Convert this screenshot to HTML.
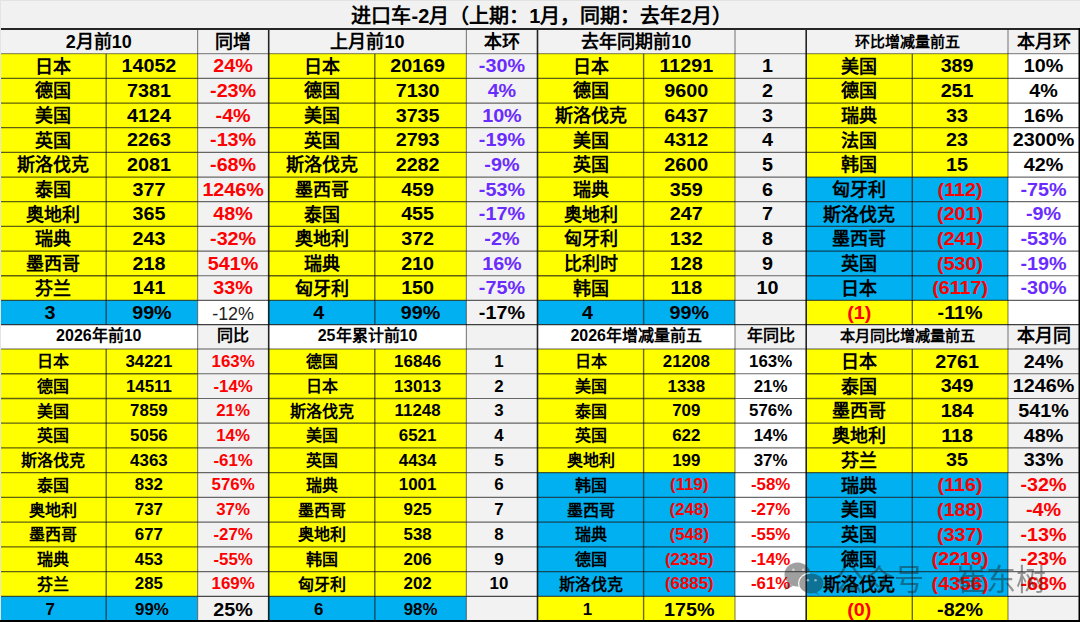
<!DOCTYPE html>
<html lang="zh-CN"><head><meta charset="utf-8"><style>
html,body{margin:0;padding:0;background:#f1f1f1;}
body{width:1080px;height:622px;overflow:hidden;position:relative;}
svg{position:absolute;left:0;top:0;}
text{font-family:"Liberation Sans",sans-serif;}
</style></head><body>
<svg width="1080" height="622" viewBox="0 0 1080 622">
<rect x="0" y="0" width="1080" height="622" fill="#f1f1f1"/>

<rect x="0.00" y="28.90" width="268.70" height="24.80" fill="#f2f2f2"/>
<rect x="268.70" y="28.90" width="268.80" height="24.80" fill="#f2f2f2"/>
<rect x="537.50" y="28.90" width="268.70" height="24.80" fill="#f2f2f2"/>
<rect x="806.20" y="28.90" width="272.70" height="24.80" fill="#f2f2f2"/>
<rect x="0.00" y="53.70" width="106.20" height="24.67" fill="#ffff00"/>
<rect x="106.20" y="53.70" width="91.40" height="24.67" fill="#ffff00"/>
<rect x="197.60" y="53.70" width="71.10" height="24.67" fill="#f2f2f2"/>
<rect x="0.00" y="78.37" width="106.20" height="24.67" fill="#ffff00"/>
<rect x="106.20" y="78.37" width="91.40" height="24.67" fill="#ffff00"/>
<rect x="197.60" y="78.37" width="71.10" height="24.67" fill="#f2f2f2"/>
<rect x="0.00" y="103.04" width="106.20" height="24.67" fill="#ffff00"/>
<rect x="106.20" y="103.04" width="91.40" height="24.67" fill="#ffff00"/>
<rect x="197.60" y="103.04" width="71.10" height="24.67" fill="#f2f2f2"/>
<rect x="0.00" y="127.71" width="106.20" height="24.67" fill="#ffff00"/>
<rect x="106.20" y="127.71" width="91.40" height="24.67" fill="#ffff00"/>
<rect x="197.60" y="127.71" width="71.10" height="24.67" fill="#f2f2f2"/>
<rect x="0.00" y="152.38" width="106.20" height="24.67" fill="#ffff00"/>
<rect x="106.20" y="152.38" width="91.40" height="24.67" fill="#ffff00"/>
<rect x="197.60" y="152.38" width="71.10" height="24.67" fill="#f2f2f2"/>
<rect x="0.00" y="177.05" width="106.20" height="24.67" fill="#ffff00"/>
<rect x="106.20" y="177.05" width="91.40" height="24.67" fill="#ffff00"/>
<rect x="197.60" y="177.05" width="71.10" height="24.67" fill="#f2f2f2"/>
<rect x="0.00" y="201.72" width="106.20" height="24.67" fill="#ffff00"/>
<rect x="106.20" y="201.72" width="91.40" height="24.67" fill="#ffff00"/>
<rect x="197.60" y="201.72" width="71.10" height="24.67" fill="#f2f2f2"/>
<rect x="0.00" y="226.39" width="106.20" height="24.67" fill="#ffff00"/>
<rect x="106.20" y="226.39" width="91.40" height="24.67" fill="#ffff00"/>
<rect x="197.60" y="226.39" width="71.10" height="24.67" fill="#f2f2f2"/>
<rect x="0.00" y="251.06" width="106.20" height="24.67" fill="#ffff00"/>
<rect x="106.20" y="251.06" width="91.40" height="24.67" fill="#ffff00"/>
<rect x="197.60" y="251.06" width="71.10" height="24.67" fill="#f2f2f2"/>
<rect x="0.00" y="275.73" width="106.20" height="24.67" fill="#ffff00"/>
<rect x="106.20" y="275.73" width="91.40" height="24.67" fill="#ffff00"/>
<rect x="197.60" y="275.73" width="71.10" height="24.67" fill="#f2f2f2"/>
<rect x="268.70" y="53.70" width="106.10" height="24.67" fill="#ffff00"/>
<rect x="374.80" y="53.70" width="91.60" height="24.67" fill="#ffff00"/>
<rect x="466.40" y="53.70" width="71.10" height="24.67" fill="#f2f2f2"/>
<rect x="268.70" y="78.37" width="106.10" height="24.67" fill="#ffff00"/>
<rect x="374.80" y="78.37" width="91.60" height="24.67" fill="#ffff00"/>
<rect x="466.40" y="78.37" width="71.10" height="24.67" fill="#f2f2f2"/>
<rect x="268.70" y="103.04" width="106.10" height="24.67" fill="#ffff00"/>
<rect x="374.80" y="103.04" width="91.60" height="24.67" fill="#ffff00"/>
<rect x="466.40" y="103.04" width="71.10" height="24.67" fill="#f2f2f2"/>
<rect x="268.70" y="127.71" width="106.10" height="24.67" fill="#ffff00"/>
<rect x="374.80" y="127.71" width="91.60" height="24.67" fill="#ffff00"/>
<rect x="466.40" y="127.71" width="71.10" height="24.67" fill="#f2f2f2"/>
<rect x="268.70" y="152.38" width="106.10" height="24.67" fill="#ffff00"/>
<rect x="374.80" y="152.38" width="91.60" height="24.67" fill="#ffff00"/>
<rect x="466.40" y="152.38" width="71.10" height="24.67" fill="#f2f2f2"/>
<rect x="268.70" y="177.05" width="106.10" height="24.67" fill="#ffff00"/>
<rect x="374.80" y="177.05" width="91.60" height="24.67" fill="#ffff00"/>
<rect x="466.40" y="177.05" width="71.10" height="24.67" fill="#f2f2f2"/>
<rect x="268.70" y="201.72" width="106.10" height="24.67" fill="#ffff00"/>
<rect x="374.80" y="201.72" width="91.60" height="24.67" fill="#ffff00"/>
<rect x="466.40" y="201.72" width="71.10" height="24.67" fill="#f2f2f2"/>
<rect x="268.70" y="226.39" width="106.10" height="24.67" fill="#ffff00"/>
<rect x="374.80" y="226.39" width="91.60" height="24.67" fill="#ffff00"/>
<rect x="466.40" y="226.39" width="71.10" height="24.67" fill="#f2f2f2"/>
<rect x="268.70" y="251.06" width="106.10" height="24.67" fill="#ffff00"/>
<rect x="374.80" y="251.06" width="91.60" height="24.67" fill="#ffff00"/>
<rect x="466.40" y="251.06" width="71.10" height="24.67" fill="#f2f2f2"/>
<rect x="268.70" y="275.73" width="106.10" height="24.67" fill="#ffff00"/>
<rect x="374.80" y="275.73" width="91.60" height="24.67" fill="#ffff00"/>
<rect x="466.40" y="275.73" width="71.10" height="24.67" fill="#f2f2f2"/>
<rect x="537.50" y="53.70" width="106.10" height="24.67" fill="#ffff00"/>
<rect x="643.60" y="53.70" width="91.40" height="24.67" fill="#ffff00"/>
<rect x="735.00" y="53.70" width="71.20" height="24.67" fill="#f2f2f2"/>
<rect x="537.50" y="78.37" width="106.10" height="24.67" fill="#ffff00"/>
<rect x="643.60" y="78.37" width="91.40" height="24.67" fill="#ffff00"/>
<rect x="735.00" y="78.37" width="71.20" height="24.67" fill="#f2f2f2"/>
<rect x="537.50" y="103.04" width="106.10" height="24.67" fill="#ffff00"/>
<rect x="643.60" y="103.04" width="91.40" height="24.67" fill="#ffff00"/>
<rect x="735.00" y="103.04" width="71.20" height="24.67" fill="#f2f2f2"/>
<rect x="537.50" y="127.71" width="106.10" height="24.67" fill="#ffff00"/>
<rect x="643.60" y="127.71" width="91.40" height="24.67" fill="#ffff00"/>
<rect x="735.00" y="127.71" width="71.20" height="24.67" fill="#f2f2f2"/>
<rect x="537.50" y="152.38" width="106.10" height="24.67" fill="#ffff00"/>
<rect x="643.60" y="152.38" width="91.40" height="24.67" fill="#ffff00"/>
<rect x="735.00" y="152.38" width="71.20" height="24.67" fill="#f2f2f2"/>
<rect x="537.50" y="177.05" width="106.10" height="24.67" fill="#ffff00"/>
<rect x="643.60" y="177.05" width="91.40" height="24.67" fill="#ffff00"/>
<rect x="735.00" y="177.05" width="71.20" height="24.67" fill="#f2f2f2"/>
<rect x="537.50" y="201.72" width="106.10" height="24.67" fill="#ffff00"/>
<rect x="643.60" y="201.72" width="91.40" height="24.67" fill="#ffff00"/>
<rect x="735.00" y="201.72" width="71.20" height="24.67" fill="#f2f2f2"/>
<rect x="537.50" y="226.39" width="106.10" height="24.67" fill="#ffff00"/>
<rect x="643.60" y="226.39" width="91.40" height="24.67" fill="#ffff00"/>
<rect x="735.00" y="226.39" width="71.20" height="24.67" fill="#f2f2f2"/>
<rect x="537.50" y="251.06" width="106.10" height="24.67" fill="#ffff00"/>
<rect x="643.60" y="251.06" width="91.40" height="24.67" fill="#ffff00"/>
<rect x="735.00" y="251.06" width="71.20" height="24.67" fill="#f2f2f2"/>
<rect x="537.50" y="275.73" width="106.10" height="24.67" fill="#ffff00"/>
<rect x="643.60" y="275.73" width="91.40" height="24.67" fill="#ffff00"/>
<rect x="735.00" y="275.73" width="71.20" height="24.67" fill="#f2f2f2"/>
<rect x="806.20" y="53.70" width="106.10" height="24.67" fill="#ffff00"/>
<rect x="912.30" y="53.70" width="95.70" height="24.67" fill="#ffff00"/>
<rect x="1008.00" y="53.70" width="70.90" height="24.67" fill="#ffffff"/>
<rect x="806.20" y="78.37" width="106.10" height="24.67" fill="#ffff00"/>
<rect x="912.30" y="78.37" width="95.70" height="24.67" fill="#ffff00"/>
<rect x="1008.00" y="78.37" width="70.90" height="24.67" fill="#ffffff"/>
<rect x="806.20" y="103.04" width="106.10" height="24.67" fill="#ffff00"/>
<rect x="912.30" y="103.04" width="95.70" height="24.67" fill="#ffff00"/>
<rect x="1008.00" y="103.04" width="70.90" height="24.67" fill="#ffffff"/>
<rect x="806.20" y="127.71" width="106.10" height="24.67" fill="#ffff00"/>
<rect x="912.30" y="127.71" width="95.70" height="24.67" fill="#ffff00"/>
<rect x="1008.00" y="127.71" width="70.90" height="24.67" fill="#ffffff"/>
<rect x="806.20" y="152.38" width="106.10" height="24.67" fill="#ffff00"/>
<rect x="912.30" y="152.38" width="95.70" height="24.67" fill="#ffff00"/>
<rect x="1008.00" y="152.38" width="70.90" height="24.67" fill="#ffffff"/>
<rect x="806.20" y="177.05" width="106.10" height="24.67" fill="#00b0f0"/>
<rect x="912.30" y="177.05" width="95.70" height="24.67" fill="#00b0f0"/>
<rect x="1008.00" y="177.05" width="70.90" height="24.67" fill="#ffffff"/>
<rect x="806.20" y="201.72" width="106.10" height="24.67" fill="#00b0f0"/>
<rect x="912.30" y="201.72" width="95.70" height="24.67" fill="#00b0f0"/>
<rect x="1008.00" y="201.72" width="70.90" height="24.67" fill="#ffffff"/>
<rect x="806.20" y="226.39" width="106.10" height="24.67" fill="#00b0f0"/>
<rect x="912.30" y="226.39" width="95.70" height="24.67" fill="#00b0f0"/>
<rect x="1008.00" y="226.39" width="70.90" height="24.67" fill="#ffffff"/>
<rect x="806.20" y="251.06" width="106.10" height="24.67" fill="#00b0f0"/>
<rect x="912.30" y="251.06" width="95.70" height="24.67" fill="#00b0f0"/>
<rect x="1008.00" y="251.06" width="70.90" height="24.67" fill="#ffffff"/>
<rect x="806.20" y="275.73" width="106.10" height="24.67" fill="#00b0f0"/>
<rect x="912.30" y="275.73" width="95.70" height="24.67" fill="#00b0f0"/>
<rect x="1008.00" y="275.73" width="70.90" height="24.67" fill="#ffffff"/>
<rect x="0.00" y="300.40" width="106.20" height="24.20" fill="#00b0f0"/>
<rect x="106.20" y="300.40" width="91.40" height="24.20" fill="#00b0f0"/>
<rect x="197.60" y="300.40" width="71.10" height="24.20" fill="#ffffff"/>
<rect x="268.70" y="300.40" width="106.10" height="24.20" fill="#00b0f0"/>
<rect x="374.80" y="300.40" width="91.60" height="24.20" fill="#00b0f0"/>
<rect x="466.40" y="300.40" width="71.10" height="24.20" fill="#f2f2f2"/>
<rect x="537.50" y="300.40" width="106.10" height="24.20" fill="#00b0f0"/>
<rect x="643.60" y="300.40" width="91.40" height="24.20" fill="#00b0f0"/>
<rect x="735.00" y="300.40" width="71.20" height="24.20" fill="#f2f2f2"/>
<rect x="806.20" y="300.40" width="106.10" height="24.20" fill="#ffff00"/>
<rect x="912.30" y="300.40" width="95.70" height="24.20" fill="#ffff00"/>
<rect x="1008.00" y="300.40" width="70.90" height="24.20" fill="#ffffff"/>
<rect x="0.00" y="324.60" width="197.60" height="24.40" fill="#ffffff"/>
<rect x="197.60" y="324.60" width="71.10" height="24.40" fill="#f2f2f2"/>
<rect x="268.70" y="324.60" width="197.70" height="24.40" fill="#ffffff"/>
<rect x="466.40" y="324.60" width="71.10" height="24.40" fill="#f2f2f2"/>
<rect x="537.50" y="324.60" width="197.50" height="24.40" fill="#ffffff"/>
<rect x="735.00" y="324.60" width="71.20" height="24.40" fill="#f2f2f2"/>
<rect x="806.20" y="324.60" width="201.80" height="24.40" fill="#f2f2f2"/>
<rect x="1008.00" y="324.60" width="70.90" height="24.40" fill="#f2f2f2"/>
<rect x="0.00" y="349.00" width="106.20" height="24.74" fill="#ffff00"/>
<rect x="106.20" y="349.00" width="91.40" height="24.74" fill="#ffff00"/>
<rect x="197.60" y="349.00" width="71.10" height="24.74" fill="#f2f2f2"/>
<rect x="0.00" y="373.74" width="106.20" height="24.74" fill="#ffff00"/>
<rect x="106.20" y="373.74" width="91.40" height="24.74" fill="#ffff00"/>
<rect x="197.60" y="373.74" width="71.10" height="24.74" fill="#f2f2f2"/>
<rect x="0.00" y="398.48" width="106.20" height="24.74" fill="#ffff00"/>
<rect x="106.20" y="398.48" width="91.40" height="24.74" fill="#ffff00"/>
<rect x="197.60" y="398.48" width="71.10" height="24.74" fill="#f2f2f2"/>
<rect x="0.00" y="423.22" width="106.20" height="24.74" fill="#ffff00"/>
<rect x="106.20" y="423.22" width="91.40" height="24.74" fill="#ffff00"/>
<rect x="197.60" y="423.22" width="71.10" height="24.74" fill="#f2f2f2"/>
<rect x="0.00" y="447.96" width="106.20" height="24.74" fill="#ffff00"/>
<rect x="106.20" y="447.96" width="91.40" height="24.74" fill="#ffff00"/>
<rect x="197.60" y="447.96" width="71.10" height="24.74" fill="#f2f2f2"/>
<rect x="0.00" y="472.70" width="106.20" height="24.74" fill="#ffff00"/>
<rect x="106.20" y="472.70" width="91.40" height="24.74" fill="#ffff00"/>
<rect x="197.60" y="472.70" width="71.10" height="24.74" fill="#f2f2f2"/>
<rect x="0.00" y="497.44" width="106.20" height="24.74" fill="#ffff00"/>
<rect x="106.20" y="497.44" width="91.40" height="24.74" fill="#ffff00"/>
<rect x="197.60" y="497.44" width="71.10" height="24.74" fill="#f2f2f2"/>
<rect x="0.00" y="522.18" width="106.20" height="24.74" fill="#ffff00"/>
<rect x="106.20" y="522.18" width="91.40" height="24.74" fill="#ffff00"/>
<rect x="197.60" y="522.18" width="71.10" height="24.74" fill="#f2f2f2"/>
<rect x="0.00" y="546.92" width="106.20" height="24.74" fill="#ffff00"/>
<rect x="106.20" y="546.92" width="91.40" height="24.74" fill="#ffff00"/>
<rect x="197.60" y="546.92" width="71.10" height="24.74" fill="#f2f2f2"/>
<rect x="0.00" y="571.66" width="106.20" height="24.74" fill="#ffff00"/>
<rect x="106.20" y="571.66" width="91.40" height="24.74" fill="#ffff00"/>
<rect x="197.60" y="571.66" width="71.10" height="24.74" fill="#f2f2f2"/>
<rect x="268.70" y="349.00" width="106.10" height="24.74" fill="#ffff00"/>
<rect x="374.80" y="349.00" width="91.60" height="24.74" fill="#ffff00"/>
<rect x="466.40" y="349.00" width="71.10" height="24.74" fill="#f2f2f2"/>
<rect x="268.70" y="373.74" width="106.10" height="24.74" fill="#ffff00"/>
<rect x="374.80" y="373.74" width="91.60" height="24.74" fill="#ffff00"/>
<rect x="466.40" y="373.74" width="71.10" height="24.74" fill="#f2f2f2"/>
<rect x="268.70" y="398.48" width="106.10" height="24.74" fill="#ffff00"/>
<rect x="374.80" y="398.48" width="91.60" height="24.74" fill="#ffff00"/>
<rect x="466.40" y="398.48" width="71.10" height="24.74" fill="#f2f2f2"/>
<rect x="268.70" y="423.22" width="106.10" height="24.74" fill="#ffff00"/>
<rect x="374.80" y="423.22" width="91.60" height="24.74" fill="#ffff00"/>
<rect x="466.40" y="423.22" width="71.10" height="24.74" fill="#f2f2f2"/>
<rect x="268.70" y="447.96" width="106.10" height="24.74" fill="#ffff00"/>
<rect x="374.80" y="447.96" width="91.60" height="24.74" fill="#ffff00"/>
<rect x="466.40" y="447.96" width="71.10" height="24.74" fill="#f2f2f2"/>
<rect x="268.70" y="472.70" width="106.10" height="24.74" fill="#ffff00"/>
<rect x="374.80" y="472.70" width="91.60" height="24.74" fill="#ffff00"/>
<rect x="466.40" y="472.70" width="71.10" height="24.74" fill="#f2f2f2"/>
<rect x="268.70" y="497.44" width="106.10" height="24.74" fill="#ffff00"/>
<rect x="374.80" y="497.44" width="91.60" height="24.74" fill="#ffff00"/>
<rect x="466.40" y="497.44" width="71.10" height="24.74" fill="#f2f2f2"/>
<rect x="268.70" y="522.18" width="106.10" height="24.74" fill="#ffff00"/>
<rect x="374.80" y="522.18" width="91.60" height="24.74" fill="#ffff00"/>
<rect x="466.40" y="522.18" width="71.10" height="24.74" fill="#f2f2f2"/>
<rect x="268.70" y="546.92" width="106.10" height="24.74" fill="#ffff00"/>
<rect x="374.80" y="546.92" width="91.60" height="24.74" fill="#ffff00"/>
<rect x="466.40" y="546.92" width="71.10" height="24.74" fill="#f2f2f2"/>
<rect x="268.70" y="571.66" width="106.10" height="24.74" fill="#ffff00"/>
<rect x="374.80" y="571.66" width="91.60" height="24.74" fill="#ffff00"/>
<rect x="466.40" y="571.66" width="71.10" height="24.74" fill="#f2f2f2"/>
<rect x="537.50" y="349.00" width="106.10" height="24.74" fill="#ffff00"/>
<rect x="643.60" y="349.00" width="91.40" height="24.74" fill="#ffff00"/>
<rect x="735.00" y="349.00" width="71.20" height="24.74" fill="#ffffff"/>
<rect x="537.50" y="373.74" width="106.10" height="24.74" fill="#ffff00"/>
<rect x="643.60" y="373.74" width="91.40" height="24.74" fill="#ffff00"/>
<rect x="735.00" y="373.74" width="71.20" height="24.74" fill="#ffffff"/>
<rect x="537.50" y="398.48" width="106.10" height="24.74" fill="#ffff00"/>
<rect x="643.60" y="398.48" width="91.40" height="24.74" fill="#ffff00"/>
<rect x="735.00" y="398.48" width="71.20" height="24.74" fill="#ffffff"/>
<rect x="537.50" y="423.22" width="106.10" height="24.74" fill="#ffff00"/>
<rect x="643.60" y="423.22" width="91.40" height="24.74" fill="#ffff00"/>
<rect x="735.00" y="423.22" width="71.20" height="24.74" fill="#ffffff"/>
<rect x="537.50" y="447.96" width="106.10" height="24.74" fill="#ffff00"/>
<rect x="643.60" y="447.96" width="91.40" height="24.74" fill="#ffff00"/>
<rect x="735.00" y="447.96" width="71.20" height="24.74" fill="#ffffff"/>
<rect x="537.50" y="472.70" width="106.10" height="24.74" fill="#00b0f0"/>
<rect x="643.60" y="472.70" width="91.40" height="24.74" fill="#00b0f0"/>
<rect x="735.00" y="472.70" width="71.20" height="24.74" fill="#ffffff"/>
<rect x="537.50" y="497.44" width="106.10" height="24.74" fill="#00b0f0"/>
<rect x="643.60" y="497.44" width="91.40" height="24.74" fill="#00b0f0"/>
<rect x="735.00" y="497.44" width="71.20" height="24.74" fill="#ffffff"/>
<rect x="537.50" y="522.18" width="106.10" height="24.74" fill="#00b0f0"/>
<rect x="643.60" y="522.18" width="91.40" height="24.74" fill="#00b0f0"/>
<rect x="735.00" y="522.18" width="71.20" height="24.74" fill="#ffffff"/>
<rect x="537.50" y="546.92" width="106.10" height="24.74" fill="#00b0f0"/>
<rect x="643.60" y="546.92" width="91.40" height="24.74" fill="#00b0f0"/>
<rect x="735.00" y="546.92" width="71.20" height="24.74" fill="#ffffff"/>
<rect x="537.50" y="571.66" width="106.10" height="24.74" fill="#00b0f0"/>
<rect x="643.60" y="571.66" width="91.40" height="24.74" fill="#00b0f0"/>
<rect x="735.00" y="571.66" width="71.20" height="24.74" fill="#ffffff"/>
<rect x="806.20" y="349.00" width="106.10" height="24.74" fill="#ffff00"/>
<rect x="912.30" y="349.00" width="95.70" height="24.74" fill="#ffff00"/>
<rect x="1008.00" y="349.00" width="70.90" height="24.74" fill="#f2f2f2"/>
<rect x="806.20" y="373.74" width="106.10" height="24.74" fill="#ffff00"/>
<rect x="912.30" y="373.74" width="95.70" height="24.74" fill="#ffff00"/>
<rect x="1008.00" y="373.74" width="70.90" height="24.74" fill="#f2f2f2"/>
<rect x="806.20" y="398.48" width="106.10" height="24.74" fill="#ffff00"/>
<rect x="912.30" y="398.48" width="95.70" height="24.74" fill="#ffff00"/>
<rect x="1008.00" y="398.48" width="70.90" height="24.74" fill="#f2f2f2"/>
<rect x="806.20" y="423.22" width="106.10" height="24.74" fill="#ffff00"/>
<rect x="912.30" y="423.22" width="95.70" height="24.74" fill="#ffff00"/>
<rect x="1008.00" y="423.22" width="70.90" height="24.74" fill="#f2f2f2"/>
<rect x="806.20" y="447.96" width="106.10" height="24.74" fill="#ffff00"/>
<rect x="912.30" y="447.96" width="95.70" height="24.74" fill="#ffff00"/>
<rect x="1008.00" y="447.96" width="70.90" height="24.74" fill="#f2f2f2"/>
<rect x="806.20" y="472.70" width="106.10" height="24.74" fill="#00b0f0"/>
<rect x="912.30" y="472.70" width="95.70" height="24.74" fill="#00b0f0"/>
<rect x="1008.00" y="472.70" width="70.90" height="24.74" fill="#f2f2f2"/>
<rect x="806.20" y="497.44" width="106.10" height="24.74" fill="#00b0f0"/>
<rect x="912.30" y="497.44" width="95.70" height="24.74" fill="#00b0f0"/>
<rect x="1008.00" y="497.44" width="70.90" height="24.74" fill="#f2f2f2"/>
<rect x="806.20" y="522.18" width="106.10" height="24.74" fill="#00b0f0"/>
<rect x="912.30" y="522.18" width="95.70" height="24.74" fill="#00b0f0"/>
<rect x="1008.00" y="522.18" width="70.90" height="24.74" fill="#f2f2f2"/>
<rect x="806.20" y="546.92" width="106.10" height="24.74" fill="#00b0f0"/>
<rect x="912.30" y="546.92" width="95.70" height="24.74" fill="#00b0f0"/>
<rect x="1008.00" y="546.92" width="70.90" height="24.74" fill="#f2f2f2"/>
<rect x="806.20" y="571.66" width="106.10" height="24.74" fill="#00b0f0"/>
<rect x="912.30" y="571.66" width="95.70" height="24.74" fill="#00b0f0"/>
<rect x="1008.00" y="571.66" width="70.90" height="24.74" fill="#f2f2f2"/>
<rect x="0.00" y="596.40" width="106.20" height="23.60" fill="#00b0f0"/>
<rect x="106.20" y="596.40" width="91.40" height="23.60" fill="#00b0f0"/>
<rect x="197.60" y="596.40" width="71.10" height="23.60" fill="#f2f2f2"/>
<rect x="268.70" y="596.40" width="106.10" height="23.60" fill="#00b0f0"/>
<rect x="374.80" y="596.40" width="91.60" height="23.60" fill="#00b0f0"/>
<rect x="466.40" y="596.40" width="71.10" height="23.60" fill="#f2f2f2"/>
<rect x="537.50" y="596.40" width="106.10" height="23.60" fill="#ffff00"/>
<rect x="643.60" y="596.40" width="91.40" height="23.60" fill="#ffff00"/>
<rect x="735.00" y="596.40" width="71.20" height="23.60" fill="#ffffff"/>
<rect x="806.20" y="596.40" width="106.10" height="23.60" fill="#ffff00"/>
<rect x="912.30" y="596.40" width="95.70" height="23.60" fill="#ffff00"/>
<rect x="1008.00" y="596.40" width="70.90" height="23.60" fill="#f2f2f2"/>
<filter id="soft" x="0" y="0" width="1080" height="622" filterUnits="userSpaceOnUse"><feGaussianBlur stdDeviation="0.4"/></filter>
<g filter="url(#soft)">
<line x1="0.00" y1="53.70" x2="268.70" y2="53.70" stroke="rgba(0,0,0,0.42)" stroke-width="1.3"/>
<line x1="0.00" y1="78.37" x2="197.60" y2="78.37" stroke="rgba(0,0,0,0.62)" stroke-width="1.3"/>
<line x1="197.60" y1="78.37" x2="268.70" y2="78.37" stroke="rgba(0,0,0,0.58)" stroke-width="1.2"/>
<line x1="0.00" y1="103.04" x2="197.60" y2="103.04" stroke="rgba(0,0,0,0.62)" stroke-width="1.3"/>
<line x1="197.60" y1="103.04" x2="268.70" y2="103.04" stroke="rgba(0,0,0,0.58)" stroke-width="1.2"/>
<line x1="0.00" y1="127.71" x2="197.60" y2="127.71" stroke="rgba(0,0,0,0.62)" stroke-width="1.3"/>
<line x1="197.60" y1="127.71" x2="268.70" y2="127.71" stroke="rgba(0,0,0,0.58)" stroke-width="1.2"/>
<line x1="0.00" y1="152.38" x2="197.60" y2="152.38" stroke="rgba(0,0,0,0.62)" stroke-width="1.3"/>
<line x1="197.60" y1="152.38" x2="268.70" y2="152.38" stroke="rgba(0,0,0,0.58)" stroke-width="1.2"/>
<line x1="0.00" y1="177.05" x2="197.60" y2="177.05" stroke="rgba(0,0,0,0.62)" stroke-width="1.3"/>
<line x1="197.60" y1="177.05" x2="268.70" y2="177.05" stroke="rgba(0,0,0,0.58)" stroke-width="1.2"/>
<line x1="0.00" y1="201.72" x2="197.60" y2="201.72" stroke="rgba(0,0,0,0.62)" stroke-width="1.3"/>
<line x1="197.60" y1="201.72" x2="268.70" y2="201.72" stroke="rgba(0,0,0,0.58)" stroke-width="1.2"/>
<line x1="0.00" y1="226.39" x2="197.60" y2="226.39" stroke="rgba(0,0,0,0.62)" stroke-width="1.3"/>
<line x1="197.60" y1="226.39" x2="268.70" y2="226.39" stroke="rgba(0,0,0,0.58)" stroke-width="1.2"/>
<line x1="0.00" y1="251.06" x2="197.60" y2="251.06" stroke="rgba(0,0,0,0.62)" stroke-width="1.3"/>
<line x1="197.60" y1="251.06" x2="268.70" y2="251.06" stroke="rgba(0,0,0,0.58)" stroke-width="1.2"/>
<line x1="0.00" y1="275.73" x2="197.60" y2="275.73" stroke="rgba(0,0,0,0.62)" stroke-width="1.3"/>
<line x1="197.60" y1="275.73" x2="268.70" y2="275.73" stroke="rgba(0,0,0,0.58)" stroke-width="1.2"/>
<line x1="0.00" y1="300.40" x2="197.60" y2="300.40" stroke="rgba(0,0,0,0.62)" stroke-width="1.3"/>
<line x1="197.60" y1="300.40" x2="268.70" y2="300.40" stroke="rgba(0,0,0,0.62)" stroke-width="1.2"/>
<line x1="0.00" y1="324.60" x2="268.70" y2="324.60" stroke="rgba(0,0,0,0.75)" stroke-width="1.3"/>
<line x1="0.00" y1="349.00" x2="268.70" y2="349.00" stroke="rgba(0,0,0,0.42)" stroke-width="1.3"/>
<line x1="0.00" y1="373.74" x2="197.60" y2="373.74" stroke="rgba(0,0,0,0.62)" stroke-width="1.3"/>
<line x1="197.60" y1="373.74" x2="268.70" y2="373.74" stroke="rgba(0,0,0,0.58)" stroke-width="1.2"/>
<line x1="0.00" y1="398.48" x2="197.60" y2="398.48" stroke="rgba(0,0,0,0.62)" stroke-width="1.3"/>
<line x1="197.60" y1="398.48" x2="268.70" y2="398.48" stroke="rgba(0,0,0,0.58)" stroke-width="1.2"/>
<line x1="0.00" y1="423.22" x2="197.60" y2="423.22" stroke="rgba(0,0,0,0.62)" stroke-width="1.3"/>
<line x1="197.60" y1="423.22" x2="268.70" y2="423.22" stroke="rgba(0,0,0,0.58)" stroke-width="1.2"/>
<line x1="0.00" y1="447.96" x2="197.60" y2="447.96" stroke="rgba(0,0,0,0.62)" stroke-width="1.3"/>
<line x1="197.60" y1="447.96" x2="268.70" y2="447.96" stroke="rgba(0,0,0,0.58)" stroke-width="1.2"/>
<line x1="0.00" y1="472.70" x2="197.60" y2="472.70" stroke="rgba(0,0,0,0.62)" stroke-width="1.3"/>
<line x1="197.60" y1="472.70" x2="268.70" y2="472.70" stroke="rgba(0,0,0,0.58)" stroke-width="1.2"/>
<line x1="0.00" y1="497.44" x2="197.60" y2="497.44" stroke="rgba(0,0,0,0.62)" stroke-width="1.3"/>
<line x1="197.60" y1="497.44" x2="268.70" y2="497.44" stroke="rgba(0,0,0,0.58)" stroke-width="1.2"/>
<line x1="0.00" y1="522.18" x2="197.60" y2="522.18" stroke="rgba(0,0,0,0.62)" stroke-width="1.3"/>
<line x1="197.60" y1="522.18" x2="268.70" y2="522.18" stroke="rgba(0,0,0,0.58)" stroke-width="1.2"/>
<line x1="0.00" y1="546.92" x2="197.60" y2="546.92" stroke="rgba(0,0,0,0.62)" stroke-width="1.3"/>
<line x1="197.60" y1="546.92" x2="268.70" y2="546.92" stroke="rgba(0,0,0,0.58)" stroke-width="1.2"/>
<line x1="0.00" y1="571.66" x2="197.60" y2="571.66" stroke="rgba(0,0,0,0.62)" stroke-width="1.3"/>
<line x1="197.60" y1="571.66" x2="268.70" y2="571.66" stroke="rgba(0,0,0,0.58)" stroke-width="1.2"/>
<line x1="0.00" y1="596.40" x2="197.60" y2="596.40" stroke="rgba(0,0,0,0.62)" stroke-width="1.3"/>
<line x1="197.60" y1="596.40" x2="268.70" y2="596.40" stroke="rgba(0,0,0,0.7)" stroke-width="1.2"/>
<line x1="106.20" y1="53.70" x2="106.20" y2="324.60" stroke="rgba(0,0,0,0.58)" stroke-width="1.4"/>
<line x1="106.20" y1="349.00" x2="106.20" y2="620.00" stroke="rgba(0,0,0,0.58)" stroke-width="1.4"/>
<line x1="197.60" y1="28.90" x2="197.60" y2="620.00" stroke="rgba(0,0,0,0.45)" stroke-width="1.2"/>
<line x1="268.70" y1="28.90" x2="268.70" y2="620.00" stroke="rgba(0,0,0,0.85)" stroke-width="1.6"/>
<line x1="268.70" y1="53.70" x2="537.50" y2="53.70" stroke="rgba(0,0,0,0.42)" stroke-width="1.3"/>
<line x1="268.70" y1="78.37" x2="466.40" y2="78.37" stroke="rgba(0,0,0,0.62)" stroke-width="1.3"/>
<line x1="466.40" y1="78.37" x2="537.50" y2="78.37" stroke="rgba(0,0,0,0.58)" stroke-width="1.2"/>
<line x1="268.70" y1="103.04" x2="466.40" y2="103.04" stroke="rgba(0,0,0,0.62)" stroke-width="1.3"/>
<line x1="466.40" y1="103.04" x2="537.50" y2="103.04" stroke="rgba(0,0,0,0.58)" stroke-width="1.2"/>
<line x1="268.70" y1="127.71" x2="466.40" y2="127.71" stroke="rgba(0,0,0,0.62)" stroke-width="1.3"/>
<line x1="466.40" y1="127.71" x2="537.50" y2="127.71" stroke="rgba(0,0,0,0.58)" stroke-width="1.2"/>
<line x1="268.70" y1="152.38" x2="466.40" y2="152.38" stroke="rgba(0,0,0,0.62)" stroke-width="1.3"/>
<line x1="466.40" y1="152.38" x2="537.50" y2="152.38" stroke="rgba(0,0,0,0.58)" stroke-width="1.2"/>
<line x1="268.70" y1="177.05" x2="466.40" y2="177.05" stroke="rgba(0,0,0,0.62)" stroke-width="1.3"/>
<line x1="466.40" y1="177.05" x2="537.50" y2="177.05" stroke="rgba(0,0,0,0.58)" stroke-width="1.2"/>
<line x1="268.70" y1="201.72" x2="466.40" y2="201.72" stroke="rgba(0,0,0,0.62)" stroke-width="1.3"/>
<line x1="466.40" y1="201.72" x2="537.50" y2="201.72" stroke="rgba(0,0,0,0.58)" stroke-width="1.2"/>
<line x1="268.70" y1="226.39" x2="466.40" y2="226.39" stroke="rgba(0,0,0,0.62)" stroke-width="1.3"/>
<line x1="466.40" y1="226.39" x2="537.50" y2="226.39" stroke="rgba(0,0,0,0.58)" stroke-width="1.2"/>
<line x1="268.70" y1="251.06" x2="466.40" y2="251.06" stroke="rgba(0,0,0,0.62)" stroke-width="1.3"/>
<line x1="466.40" y1="251.06" x2="537.50" y2="251.06" stroke="rgba(0,0,0,0.58)" stroke-width="1.2"/>
<line x1="268.70" y1="275.73" x2="466.40" y2="275.73" stroke="rgba(0,0,0,0.62)" stroke-width="1.3"/>
<line x1="466.40" y1="275.73" x2="537.50" y2="275.73" stroke="rgba(0,0,0,0.58)" stroke-width="1.2"/>
<line x1="268.70" y1="300.40" x2="466.40" y2="300.40" stroke="rgba(0,0,0,0.62)" stroke-width="1.3"/>
<line x1="466.40" y1="300.40" x2="537.50" y2="300.40" stroke="rgba(0,0,0,0.62)" stroke-width="1.2"/>
<line x1="268.70" y1="324.60" x2="537.50" y2="324.60" stroke="rgba(0,0,0,0.75)" stroke-width="1.3"/>
<line x1="268.70" y1="349.00" x2="537.50" y2="349.00" stroke="rgba(0,0,0,0.42)" stroke-width="1.3"/>
<line x1="268.70" y1="373.74" x2="466.40" y2="373.74" stroke="rgba(0,0,0,0.62)" stroke-width="1.3"/>
<line x1="466.40" y1="373.74" x2="537.50" y2="373.74" stroke="rgba(0,0,0,0.58)" stroke-width="1.2"/>
<line x1="268.70" y1="398.48" x2="466.40" y2="398.48" stroke="rgba(0,0,0,0.62)" stroke-width="1.3"/>
<line x1="466.40" y1="398.48" x2="537.50" y2="398.48" stroke="rgba(0,0,0,0.58)" stroke-width="1.2"/>
<line x1="268.70" y1="423.22" x2="466.40" y2="423.22" stroke="rgba(0,0,0,0.62)" stroke-width="1.3"/>
<line x1="466.40" y1="423.22" x2="537.50" y2="423.22" stroke="rgba(0,0,0,0.58)" stroke-width="1.2"/>
<line x1="268.70" y1="447.96" x2="466.40" y2="447.96" stroke="rgba(0,0,0,0.62)" stroke-width="1.3"/>
<line x1="466.40" y1="447.96" x2="537.50" y2="447.96" stroke="rgba(0,0,0,0.58)" stroke-width="1.2"/>
<line x1="268.70" y1="472.70" x2="466.40" y2="472.70" stroke="rgba(0,0,0,0.62)" stroke-width="1.3"/>
<line x1="466.40" y1="472.70" x2="537.50" y2="472.70" stroke="rgba(0,0,0,0.58)" stroke-width="1.2"/>
<line x1="268.70" y1="497.44" x2="466.40" y2="497.44" stroke="rgba(0,0,0,0.62)" stroke-width="1.3"/>
<line x1="466.40" y1="497.44" x2="537.50" y2="497.44" stroke="rgba(0,0,0,0.58)" stroke-width="1.2"/>
<line x1="268.70" y1="522.18" x2="466.40" y2="522.18" stroke="rgba(0,0,0,0.62)" stroke-width="1.3"/>
<line x1="466.40" y1="522.18" x2="537.50" y2="522.18" stroke="rgba(0,0,0,0.58)" stroke-width="1.2"/>
<line x1="268.70" y1="546.92" x2="466.40" y2="546.92" stroke="rgba(0,0,0,0.62)" stroke-width="1.3"/>
<line x1="466.40" y1="546.92" x2="537.50" y2="546.92" stroke="rgba(0,0,0,0.58)" stroke-width="1.2"/>
<line x1="268.70" y1="571.66" x2="466.40" y2="571.66" stroke="rgba(0,0,0,0.62)" stroke-width="1.3"/>
<line x1="466.40" y1="571.66" x2="537.50" y2="571.66" stroke="rgba(0,0,0,0.58)" stroke-width="1.2"/>
<line x1="268.70" y1="596.40" x2="466.40" y2="596.40" stroke="rgba(0,0,0,0.62)" stroke-width="1.3"/>
<line x1="466.40" y1="596.40" x2="537.50" y2="596.40" stroke="rgba(0,0,0,0.7)" stroke-width="1.2"/>
<line x1="374.80" y1="53.70" x2="374.80" y2="324.60" stroke="rgba(0,0,0,0.58)" stroke-width="1.4"/>
<line x1="374.80" y1="349.00" x2="374.80" y2="620.00" stroke="rgba(0,0,0,0.58)" stroke-width="1.4"/>
<line x1="466.40" y1="28.90" x2="466.40" y2="620.00" stroke="rgba(0,0,0,0.45)" stroke-width="1.2"/>
<line x1="537.50" y1="28.90" x2="537.50" y2="620.00" stroke="rgba(0,0,0,0.85)" stroke-width="1.6"/>
<line x1="537.50" y1="53.70" x2="806.20" y2="53.70" stroke="rgba(0,0,0,0.42)" stroke-width="1.3"/>
<line x1="537.50" y1="78.37" x2="735.00" y2="78.37" stroke="rgba(0,0,0,0.62)" stroke-width="1.3"/>
<line x1="735.00" y1="78.37" x2="806.20" y2="78.37" stroke="rgba(0,0,0,0.58)" stroke-width="1.2"/>
<line x1="537.50" y1="103.04" x2="735.00" y2="103.04" stroke="rgba(0,0,0,0.62)" stroke-width="1.3"/>
<line x1="735.00" y1="103.04" x2="806.20" y2="103.04" stroke="rgba(0,0,0,0.58)" stroke-width="1.2"/>
<line x1="537.50" y1="127.71" x2="735.00" y2="127.71" stroke="rgba(0,0,0,0.62)" stroke-width="1.3"/>
<line x1="735.00" y1="127.71" x2="806.20" y2="127.71" stroke="rgba(0,0,0,0.58)" stroke-width="1.2"/>
<line x1="537.50" y1="152.38" x2="735.00" y2="152.38" stroke="rgba(0,0,0,0.62)" stroke-width="1.3"/>
<line x1="735.00" y1="152.38" x2="806.20" y2="152.38" stroke="rgba(0,0,0,0.58)" stroke-width="1.2"/>
<line x1="537.50" y1="177.05" x2="735.00" y2="177.05" stroke="rgba(0,0,0,0.62)" stroke-width="1.3"/>
<line x1="735.00" y1="177.05" x2="806.20" y2="177.05" stroke="rgba(0,0,0,0.58)" stroke-width="1.2"/>
<line x1="537.50" y1="201.72" x2="735.00" y2="201.72" stroke="rgba(0,0,0,0.62)" stroke-width="1.3"/>
<line x1="735.00" y1="201.72" x2="806.20" y2="201.72" stroke="rgba(0,0,0,0.58)" stroke-width="1.2"/>
<line x1="537.50" y1="226.39" x2="735.00" y2="226.39" stroke="rgba(0,0,0,0.62)" stroke-width="1.3"/>
<line x1="735.00" y1="226.39" x2="806.20" y2="226.39" stroke="rgba(0,0,0,0.58)" stroke-width="1.2"/>
<line x1="537.50" y1="251.06" x2="735.00" y2="251.06" stroke="rgba(0,0,0,0.62)" stroke-width="1.3"/>
<line x1="735.00" y1="251.06" x2="806.20" y2="251.06" stroke="rgba(0,0,0,0.58)" stroke-width="1.2"/>
<line x1="537.50" y1="275.73" x2="735.00" y2="275.73" stroke="rgba(0,0,0,0.62)" stroke-width="1.3"/>
<line x1="735.00" y1="275.73" x2="806.20" y2="275.73" stroke="rgba(0,0,0,0.58)" stroke-width="1.2"/>
<line x1="537.50" y1="300.40" x2="735.00" y2="300.40" stroke="rgba(0,0,0,0.62)" stroke-width="1.3"/>
<line x1="735.00" y1="300.40" x2="806.20" y2="300.40" stroke="rgba(0,0,0,0.62)" stroke-width="1.2"/>
<line x1="537.50" y1="324.60" x2="806.20" y2="324.60" stroke="rgba(0,0,0,0.75)" stroke-width="1.3"/>
<line x1="537.50" y1="349.00" x2="806.20" y2="349.00" stroke="rgba(0,0,0,0.42)" stroke-width="1.3"/>
<line x1="537.50" y1="373.74" x2="735.00" y2="373.74" stroke="rgba(0,0,0,0.62)" stroke-width="1.3"/>
<line x1="735.00" y1="373.74" x2="806.20" y2="373.74" stroke="rgba(0,0,0,0.58)" stroke-width="1.2"/>
<line x1="537.50" y1="398.48" x2="735.00" y2="398.48" stroke="rgba(0,0,0,0.62)" stroke-width="1.3"/>
<line x1="735.00" y1="398.48" x2="806.20" y2="398.48" stroke="rgba(0,0,0,0.58)" stroke-width="1.2"/>
<line x1="537.50" y1="423.22" x2="735.00" y2="423.22" stroke="rgba(0,0,0,0.62)" stroke-width="1.3"/>
<line x1="735.00" y1="423.22" x2="806.20" y2="423.22" stroke="rgba(0,0,0,0.58)" stroke-width="1.2"/>
<line x1="537.50" y1="447.96" x2="735.00" y2="447.96" stroke="rgba(0,0,0,0.62)" stroke-width="1.3"/>
<line x1="735.00" y1="447.96" x2="806.20" y2="447.96" stroke="rgba(0,0,0,0.58)" stroke-width="1.2"/>
<line x1="537.50" y1="472.70" x2="735.00" y2="472.70" stroke="rgba(0,0,0,0.62)" stroke-width="1.3"/>
<line x1="735.00" y1="472.70" x2="806.20" y2="472.70" stroke="rgba(0,0,0,0.58)" stroke-width="1.2"/>
<line x1="537.50" y1="497.44" x2="735.00" y2="497.44" stroke="rgba(0,0,0,0.62)" stroke-width="1.3"/>
<line x1="735.00" y1="497.44" x2="806.20" y2="497.44" stroke="rgba(0,0,0,0.58)" stroke-width="1.2"/>
<line x1="537.50" y1="522.18" x2="735.00" y2="522.18" stroke="rgba(0,0,0,0.62)" stroke-width="1.3"/>
<line x1="735.00" y1="522.18" x2="806.20" y2="522.18" stroke="rgba(0,0,0,0.58)" stroke-width="1.2"/>
<line x1="537.50" y1="546.92" x2="735.00" y2="546.92" stroke="rgba(0,0,0,0.62)" stroke-width="1.3"/>
<line x1="735.00" y1="546.92" x2="806.20" y2="546.92" stroke="rgba(0,0,0,0.58)" stroke-width="1.2"/>
<line x1="537.50" y1="571.66" x2="735.00" y2="571.66" stroke="rgba(0,0,0,0.62)" stroke-width="1.3"/>
<line x1="735.00" y1="571.66" x2="806.20" y2="571.66" stroke="rgba(0,0,0,0.58)" stroke-width="1.2"/>
<line x1="537.50" y1="596.40" x2="735.00" y2="596.40" stroke="rgba(0,0,0,0.62)" stroke-width="1.3"/>
<line x1="735.00" y1="596.40" x2="806.20" y2="596.40" stroke="rgba(0,0,0,0.7)" stroke-width="1.2"/>
<line x1="643.60" y1="53.70" x2="643.60" y2="324.60" stroke="rgba(0,0,0,0.58)" stroke-width="1.4"/>
<line x1="643.60" y1="349.00" x2="643.60" y2="620.00" stroke="rgba(0,0,0,0.58)" stroke-width="1.4"/>
<line x1="735.00" y1="28.90" x2="735.00" y2="620.00" stroke="rgba(0,0,0,0.45)" stroke-width="1.2"/>
<line x1="806.20" y1="28.90" x2="806.20" y2="620.00" stroke="rgba(0,0,0,0.85)" stroke-width="1.6"/>
<line x1="806.20" y1="53.70" x2="1078.90" y2="53.70" stroke="rgba(0,0,0,0.42)" stroke-width="1.3"/>
<line x1="806.20" y1="78.37" x2="1008.00" y2="78.37" stroke="rgba(0,0,0,0.62)" stroke-width="1.3"/>
<line x1="1008.00" y1="78.37" x2="1078.90" y2="78.37" stroke="rgba(0,0,0,0.58)" stroke-width="1.2"/>
<line x1="806.20" y1="103.04" x2="1008.00" y2="103.04" stroke="rgba(0,0,0,0.62)" stroke-width="1.3"/>
<line x1="1008.00" y1="103.04" x2="1078.90" y2="103.04" stroke="rgba(0,0,0,0.58)" stroke-width="1.2"/>
<line x1="806.20" y1="127.71" x2="1008.00" y2="127.71" stroke="rgba(0,0,0,0.62)" stroke-width="1.3"/>
<line x1="1008.00" y1="127.71" x2="1078.90" y2="127.71" stroke="rgba(0,0,0,0.58)" stroke-width="1.2"/>
<line x1="806.20" y1="152.38" x2="1008.00" y2="152.38" stroke="rgba(0,0,0,0.62)" stroke-width="1.3"/>
<line x1="1008.00" y1="152.38" x2="1078.90" y2="152.38" stroke="rgba(0,0,0,0.58)" stroke-width="1.2"/>
<line x1="806.20" y1="177.05" x2="1008.00" y2="177.05" stroke="rgba(0,0,0,0.62)" stroke-width="1.3"/>
<line x1="1008.00" y1="177.05" x2="1078.90" y2="177.05" stroke="rgba(0,0,0,0.58)" stroke-width="1.2"/>
<line x1="806.20" y1="201.72" x2="1008.00" y2="201.72" stroke="rgba(0,0,0,0.62)" stroke-width="1.3"/>
<line x1="1008.00" y1="201.72" x2="1078.90" y2="201.72" stroke="rgba(0,0,0,0.58)" stroke-width="1.2"/>
<line x1="806.20" y1="226.39" x2="1008.00" y2="226.39" stroke="rgba(0,0,0,0.62)" stroke-width="1.3"/>
<line x1="1008.00" y1="226.39" x2="1078.90" y2="226.39" stroke="rgba(0,0,0,0.58)" stroke-width="1.2"/>
<line x1="806.20" y1="251.06" x2="1008.00" y2="251.06" stroke="rgba(0,0,0,0.62)" stroke-width="1.3"/>
<line x1="1008.00" y1="251.06" x2="1078.90" y2="251.06" stroke="rgba(0,0,0,0.58)" stroke-width="1.2"/>
<line x1="806.20" y1="275.73" x2="1008.00" y2="275.73" stroke="rgba(0,0,0,0.62)" stroke-width="1.3"/>
<line x1="1008.00" y1="275.73" x2="1078.90" y2="275.73" stroke="rgba(0,0,0,0.58)" stroke-width="1.2"/>
<line x1="806.20" y1="300.40" x2="1008.00" y2="300.40" stroke="rgba(0,0,0,0.62)" stroke-width="1.3"/>
<line x1="1008.00" y1="300.40" x2="1078.90" y2="300.40" stroke="rgba(0,0,0,0.62)" stroke-width="1.2"/>
<line x1="806.20" y1="324.60" x2="1078.90" y2="324.60" stroke="rgba(0,0,0,0.75)" stroke-width="1.3"/>
<line x1="806.20" y1="349.00" x2="1078.90" y2="349.00" stroke="rgba(0,0,0,0.42)" stroke-width="1.3"/>
<line x1="806.20" y1="373.74" x2="1008.00" y2="373.74" stroke="rgba(0,0,0,0.62)" stroke-width="1.3"/>
<line x1="1008.00" y1="373.74" x2="1078.90" y2="373.74" stroke="rgba(0,0,0,0.58)" stroke-width="1.2"/>
<line x1="806.20" y1="398.48" x2="1008.00" y2="398.48" stroke="rgba(0,0,0,0.62)" stroke-width="1.3"/>
<line x1="1008.00" y1="398.48" x2="1078.90" y2="398.48" stroke="rgba(0,0,0,0.58)" stroke-width="1.2"/>
<line x1="806.20" y1="423.22" x2="1008.00" y2="423.22" stroke="rgba(0,0,0,0.62)" stroke-width="1.3"/>
<line x1="1008.00" y1="423.22" x2="1078.90" y2="423.22" stroke="rgba(0,0,0,0.58)" stroke-width="1.2"/>
<line x1="806.20" y1="447.96" x2="1008.00" y2="447.96" stroke="rgba(0,0,0,0.62)" stroke-width="1.3"/>
<line x1="1008.00" y1="447.96" x2="1078.90" y2="447.96" stroke="rgba(0,0,0,0.58)" stroke-width="1.2"/>
<line x1="806.20" y1="472.70" x2="1008.00" y2="472.70" stroke="rgba(0,0,0,0.62)" stroke-width="1.3"/>
<line x1="1008.00" y1="472.70" x2="1078.90" y2="472.70" stroke="rgba(0,0,0,0.58)" stroke-width="1.2"/>
<line x1="806.20" y1="497.44" x2="1008.00" y2="497.44" stroke="rgba(0,0,0,0.62)" stroke-width="1.3"/>
<line x1="1008.00" y1="497.44" x2="1078.90" y2="497.44" stroke="rgba(0,0,0,0.58)" stroke-width="1.2"/>
<line x1="806.20" y1="522.18" x2="1008.00" y2="522.18" stroke="rgba(0,0,0,0.62)" stroke-width="1.3"/>
<line x1="1008.00" y1="522.18" x2="1078.90" y2="522.18" stroke="rgba(0,0,0,0.58)" stroke-width="1.2"/>
<line x1="806.20" y1="546.92" x2="1008.00" y2="546.92" stroke="rgba(0,0,0,0.62)" stroke-width="1.3"/>
<line x1="1008.00" y1="546.92" x2="1078.90" y2="546.92" stroke="rgba(0,0,0,0.58)" stroke-width="1.2"/>
<line x1="806.20" y1="571.66" x2="1008.00" y2="571.66" stroke="rgba(0,0,0,0.62)" stroke-width="1.3"/>
<line x1="1008.00" y1="571.66" x2="1078.90" y2="571.66" stroke="rgba(0,0,0,0.58)" stroke-width="1.2"/>
<line x1="806.20" y1="596.40" x2="1008.00" y2="596.40" stroke="rgba(0,0,0,0.62)" stroke-width="1.3"/>
<line x1="1008.00" y1="596.40" x2="1078.90" y2="596.40" stroke="rgba(0,0,0,0.7)" stroke-width="1.2"/>
<line x1="912.30" y1="53.70" x2="912.30" y2="324.60" stroke="rgba(0,0,0,0.58)" stroke-width="1.4"/>
<line x1="912.30" y1="349.00" x2="912.30" y2="620.00" stroke="rgba(0,0,0,0.58)" stroke-width="1.4"/>
<line x1="1008.00" y1="28.90" x2="1008.00" y2="620.00" stroke="rgba(0,0,0,0.45)" stroke-width="1.2"/>
<line x1="0.00" y1="28.90" x2="1080.00" y2="28.90" stroke="#262626" stroke-width="2.0"/>
<line x1="0.00" y1="621.00" x2="1080.00" y2="621.00" stroke="#000" stroke-width="2.0"/>
<line x1="1079.30" y1="27.90" x2="1079.30" y2="622.00" stroke="#000" stroke-width="1.6"/>
</g>
<rect x="0" y="0" width="1080" height="1" fill="#e2e2e2"/>
<rect x="0" y="0" width="1" height="620" fill="#e4e4e4"/>
<text x="541.5" y="22.6" text-anchor="middle" font-size="20" font-weight="700" fill="#000">进口车-2月（上期：1月，同期：去年2月）</text>
<text x="98.8" y="47.8" text-anchor="middle" font-size="18" font-weight="700" fill="#000000">2月前10</text>
<text x="233.1" y="47.8" text-anchor="middle" font-size="18" font-weight="700" fill="#000000">同增</text>
<text x="367.5" y="47.8" text-anchor="middle" font-size="18" font-weight="700" fill="#000000">上月前10</text>
<text x="501.9" y="47.8" text-anchor="middle" font-size="18" font-weight="700" fill="#000000">本环</text>
<text x="636.2" y="47.8" text-anchor="middle" font-size="18" font-weight="700" fill="#000000">去年同期前10</text>
<text x="907.1" y="46.7" text-anchor="middle" font-size="15.0" font-weight="700" fill="#000000">环比增减量前五</text>
<text x="1043.5" y="47.8" text-anchor="middle" font-size="18" font-weight="700" fill="#000000">本月环</text>
<text x="53.1" y="72.5" text-anchor="middle" font-size="18" font-weight="700" fill="#000000">日本</text>
<text transform="translate(148.9,72.1) scale(1.05,1)" text-anchor="middle" font-size="18.81" font-weight="700" fill="#000000">14052</text>
<text transform="translate(233.1,72.1) scale(1.05,1)" text-anchor="middle" font-size="18.81" font-weight="700" fill="#ff0000">24%</text>
<text x="53.1" y="97.2" text-anchor="middle" font-size="18" font-weight="700" fill="#000000">德国</text>
<text transform="translate(148.9,96.8) scale(1.05,1)" text-anchor="middle" font-size="18.81" font-weight="700" fill="#000000">7381</text>
<text transform="translate(233.1,96.8) scale(1.05,1)" text-anchor="middle" font-size="18.81" font-weight="700" fill="#ff0000">-23%</text>
<text x="53.1" y="121.9" text-anchor="middle" font-size="18" font-weight="700" fill="#000000">美国</text>
<text transform="translate(148.9,121.5) scale(1.05,1)" text-anchor="middle" font-size="18.81" font-weight="700" fill="#000000">4124</text>
<text transform="translate(233.1,121.5) scale(1.05,1)" text-anchor="middle" font-size="18.81" font-weight="700" fill="#ff0000">-4%</text>
<text x="53.1" y="146.5" text-anchor="middle" font-size="18" font-weight="700" fill="#000000">英国</text>
<text transform="translate(148.9,146.1) scale(1.05,1)" text-anchor="middle" font-size="18.81" font-weight="700" fill="#000000">2263</text>
<text transform="translate(233.1,146.1) scale(1.05,1)" text-anchor="middle" font-size="18.81" font-weight="700" fill="#ff0000">-13%</text>
<text x="53.1" y="171.2" text-anchor="middle" font-size="18" font-weight="700" fill="#000000">斯洛伐克</text>
<text transform="translate(148.9,170.8) scale(1.05,1)" text-anchor="middle" font-size="18.81" font-weight="700" fill="#000000">2081</text>
<text transform="translate(233.1,170.8) scale(1.05,1)" text-anchor="middle" font-size="18.81" font-weight="700" fill="#ff0000">-68%</text>
<text x="53.1" y="195.9" text-anchor="middle" font-size="18" font-weight="700" fill="#000000">泰国</text>
<text transform="translate(148.9,195.5) scale(1.05,1)" text-anchor="middle" font-size="18.81" font-weight="700" fill="#000000">377</text>
<text transform="translate(233.1,195.5) scale(1.05,1)" text-anchor="middle" font-size="18.81" font-weight="700" fill="#ff0000">1246%</text>
<text x="53.1" y="220.5" text-anchor="middle" font-size="18" font-weight="700" fill="#000000">奥地利</text>
<text transform="translate(148.9,220.1) scale(1.05,1)" text-anchor="middle" font-size="18.81" font-weight="700" fill="#000000">365</text>
<text transform="translate(233.1,220.1) scale(1.05,1)" text-anchor="middle" font-size="18.81" font-weight="700" fill="#ff0000">48%</text>
<text x="53.1" y="245.2" text-anchor="middle" font-size="18" font-weight="700" fill="#000000">瑞典</text>
<text transform="translate(148.9,244.8) scale(1.05,1)" text-anchor="middle" font-size="18.81" font-weight="700" fill="#000000">243</text>
<text transform="translate(233.1,244.8) scale(1.05,1)" text-anchor="middle" font-size="18.81" font-weight="700" fill="#ff0000">-32%</text>
<text x="53.1" y="269.9" text-anchor="middle" font-size="18" font-weight="700" fill="#000000">墨西哥</text>
<text transform="translate(148.9,269.5) scale(1.05,1)" text-anchor="middle" font-size="18.81" font-weight="700" fill="#000000">218</text>
<text transform="translate(233.1,269.5) scale(1.05,1)" text-anchor="middle" font-size="18.81" font-weight="700" fill="#ff0000">541%</text>
<text x="53.1" y="294.5" text-anchor="middle" font-size="18" font-weight="700" fill="#000000">芬兰</text>
<text transform="translate(148.9,294.1) scale(1.05,1)" text-anchor="middle" font-size="18.81" font-weight="700" fill="#000000">141</text>
<text transform="translate(233.1,294.1) scale(1.05,1)" text-anchor="middle" font-size="18.81" font-weight="700" fill="#ff0000">33%</text>
<text x="321.8" y="72.5" text-anchor="middle" font-size="18" font-weight="700" fill="#000000">日本</text>
<text transform="translate(417.6,72.1) scale(1.05,1)" text-anchor="middle" font-size="18.81" font-weight="700" fill="#000000">20169</text>
<text transform="translate(501.9,72.1) scale(1.05,1)" text-anchor="middle" font-size="18.81" font-weight="700" fill="#6a2bff">-30%</text>
<text x="321.8" y="97.2" text-anchor="middle" font-size="18" font-weight="700" fill="#000000">德国</text>
<text transform="translate(417.6,96.8) scale(1.05,1)" text-anchor="middle" font-size="18.81" font-weight="700" fill="#000000">7130</text>
<text transform="translate(501.9,96.8) scale(1.05,1)" text-anchor="middle" font-size="18.81" font-weight="700" fill="#6a2bff">4%</text>
<text x="321.8" y="121.9" text-anchor="middle" font-size="18" font-weight="700" fill="#000000">美国</text>
<text transform="translate(417.6,121.5) scale(1.05,1)" text-anchor="middle" font-size="18.81" font-weight="700" fill="#000000">3735</text>
<text transform="translate(501.9,121.5) scale(1.05,1)" text-anchor="middle" font-size="18.81" font-weight="700" fill="#6a2bff">10%</text>
<text x="321.8" y="146.5" text-anchor="middle" font-size="18" font-weight="700" fill="#000000">英国</text>
<text transform="translate(417.6,146.1) scale(1.05,1)" text-anchor="middle" font-size="18.81" font-weight="700" fill="#000000">2793</text>
<text transform="translate(501.9,146.1) scale(1.05,1)" text-anchor="middle" font-size="18.81" font-weight="700" fill="#6a2bff">-19%</text>
<text x="321.8" y="171.2" text-anchor="middle" font-size="18" font-weight="700" fill="#000000">斯洛伐克</text>
<text transform="translate(417.6,170.8) scale(1.05,1)" text-anchor="middle" font-size="18.81" font-weight="700" fill="#000000">2282</text>
<text transform="translate(501.9,170.8) scale(1.05,1)" text-anchor="middle" font-size="18.81" font-weight="700" fill="#6a2bff">-9%</text>
<text x="321.8" y="195.9" text-anchor="middle" font-size="18" font-weight="700" fill="#000000">墨西哥</text>
<text transform="translate(417.6,195.5) scale(1.05,1)" text-anchor="middle" font-size="18.81" font-weight="700" fill="#000000">459</text>
<text transform="translate(501.9,195.5) scale(1.05,1)" text-anchor="middle" font-size="18.81" font-weight="700" fill="#6a2bff">-53%</text>
<text x="321.8" y="220.5" text-anchor="middle" font-size="18" font-weight="700" fill="#000000">泰国</text>
<text transform="translate(417.6,220.1) scale(1.05,1)" text-anchor="middle" font-size="18.81" font-weight="700" fill="#000000">455</text>
<text transform="translate(501.9,220.1) scale(1.05,1)" text-anchor="middle" font-size="18.81" font-weight="700" fill="#6a2bff">-17%</text>
<text x="321.8" y="245.2" text-anchor="middle" font-size="18" font-weight="700" fill="#000000">奥地利</text>
<text transform="translate(417.6,244.8) scale(1.05,1)" text-anchor="middle" font-size="18.81" font-weight="700" fill="#000000">372</text>
<text transform="translate(501.9,244.8) scale(1.05,1)" text-anchor="middle" font-size="18.81" font-weight="700" fill="#6a2bff">-2%</text>
<text x="321.8" y="269.9" text-anchor="middle" font-size="18" font-weight="700" fill="#000000">瑞典</text>
<text transform="translate(417.6,269.5) scale(1.05,1)" text-anchor="middle" font-size="18.81" font-weight="700" fill="#000000">210</text>
<text transform="translate(501.9,269.5) scale(1.05,1)" text-anchor="middle" font-size="18.81" font-weight="700" fill="#6a2bff">16%</text>
<text x="321.8" y="294.5" text-anchor="middle" font-size="18" font-weight="700" fill="#000000">匈牙利</text>
<text transform="translate(417.6,294.1) scale(1.05,1)" text-anchor="middle" font-size="18.81" font-weight="700" fill="#000000">150</text>
<text transform="translate(501.9,294.1) scale(1.05,1)" text-anchor="middle" font-size="18.81" font-weight="700" fill="#6a2bff">-75%</text>
<text x="590.5" y="72.5" text-anchor="middle" font-size="18" font-weight="700" fill="#000000">日本</text>
<text transform="translate(686.3,72.1) scale(1.05,1)" text-anchor="middle" font-size="18.81" font-weight="700" fill="#000000">11291</text>
<text transform="translate(767.6,72.1) scale(1.05,1)" text-anchor="middle" font-size="18.81" font-weight="700" fill="#000000">1</text>
<text x="590.5" y="97.2" text-anchor="middle" font-size="18" font-weight="700" fill="#000000">德国</text>
<text transform="translate(686.3,96.8) scale(1.05,1)" text-anchor="middle" font-size="18.81" font-weight="700" fill="#000000">9600</text>
<text transform="translate(767.6,96.8) scale(1.05,1)" text-anchor="middle" font-size="18.81" font-weight="700" fill="#000000">2</text>
<text x="590.5" y="121.9" text-anchor="middle" font-size="18" font-weight="700" fill="#000000">斯洛伐克</text>
<text transform="translate(686.3,121.5) scale(1.05,1)" text-anchor="middle" font-size="18.81" font-weight="700" fill="#000000">6437</text>
<text transform="translate(767.6,121.5) scale(1.05,1)" text-anchor="middle" font-size="18.81" font-weight="700" fill="#000000">3</text>
<text x="590.5" y="146.5" text-anchor="middle" font-size="18" font-weight="700" fill="#000000">美国</text>
<text transform="translate(686.3,146.1) scale(1.05,1)" text-anchor="middle" font-size="18.81" font-weight="700" fill="#000000">4312</text>
<text transform="translate(767.6,146.1) scale(1.05,1)" text-anchor="middle" font-size="18.81" font-weight="700" fill="#000000">4</text>
<text x="590.5" y="171.2" text-anchor="middle" font-size="18" font-weight="700" fill="#000000">英国</text>
<text transform="translate(686.3,170.8) scale(1.05,1)" text-anchor="middle" font-size="18.81" font-weight="700" fill="#000000">2600</text>
<text transform="translate(767.6,170.8) scale(1.05,1)" text-anchor="middle" font-size="18.81" font-weight="700" fill="#000000">5</text>
<text x="590.5" y="195.9" text-anchor="middle" font-size="18" font-weight="700" fill="#000000">瑞典</text>
<text transform="translate(686.3,195.5) scale(1.05,1)" text-anchor="middle" font-size="18.81" font-weight="700" fill="#000000">359</text>
<text transform="translate(767.6,195.5) scale(1.05,1)" text-anchor="middle" font-size="18.81" font-weight="700" fill="#000000">6</text>
<text x="590.5" y="220.5" text-anchor="middle" font-size="18" font-weight="700" fill="#000000">奥地利</text>
<text transform="translate(686.3,220.1) scale(1.05,1)" text-anchor="middle" font-size="18.81" font-weight="700" fill="#000000">247</text>
<text transform="translate(767.6,220.1) scale(1.05,1)" text-anchor="middle" font-size="18.81" font-weight="700" fill="#000000">7</text>
<text x="590.5" y="245.2" text-anchor="middle" font-size="18" font-weight="700" fill="#000000">匈牙利</text>
<text transform="translate(686.3,244.8) scale(1.05,1)" text-anchor="middle" font-size="18.81" font-weight="700" fill="#000000">132</text>
<text transform="translate(767.6,244.8) scale(1.05,1)" text-anchor="middle" font-size="18.81" font-weight="700" fill="#000000">8</text>
<text x="590.5" y="269.9" text-anchor="middle" font-size="18" font-weight="700" fill="#000000">比利时</text>
<text transform="translate(686.3,269.5) scale(1.05,1)" text-anchor="middle" font-size="18.81" font-weight="700" fill="#000000">128</text>
<text transform="translate(767.6,269.5) scale(1.05,1)" text-anchor="middle" font-size="18.81" font-weight="700" fill="#000000">9</text>
<text x="590.5" y="294.5" text-anchor="middle" font-size="18" font-weight="700" fill="#000000">韩国</text>
<text transform="translate(686.3,294.1) scale(1.05,1)" text-anchor="middle" font-size="18.81" font-weight="700" fill="#000000">118</text>
<text transform="translate(767.6,294.1) scale(1.05,1)" text-anchor="middle" font-size="18.81" font-weight="700" fill="#000000">10</text>
<text x="859.2" y="72.5" text-anchor="middle" font-size="18" font-weight="700" fill="#000000">美国</text>
<text transform="translate(957.1,72.1) scale(1.05,1)" text-anchor="middle" font-size="18.81" font-weight="700" fill="#000000">389</text>
<text transform="translate(1043.5,72.1) scale(1.05,1)" text-anchor="middle" font-size="18.81" font-weight="700" fill="#000000">10%</text>
<text x="859.2" y="97.2" text-anchor="middle" font-size="18" font-weight="700" fill="#000000">德国</text>
<text transform="translate(957.1,96.8) scale(1.05,1)" text-anchor="middle" font-size="18.81" font-weight="700" fill="#000000">251</text>
<text transform="translate(1043.5,96.8) scale(1.05,1)" text-anchor="middle" font-size="18.81" font-weight="700" fill="#000000">4%</text>
<text x="859.2" y="121.9" text-anchor="middle" font-size="18" font-weight="700" fill="#000000">瑞典</text>
<text transform="translate(957.1,121.5) scale(1.05,1)" text-anchor="middle" font-size="18.81" font-weight="700" fill="#000000">33</text>
<text transform="translate(1043.5,121.5) scale(1.05,1)" text-anchor="middle" font-size="18.81" font-weight="700" fill="#000000">16%</text>
<text x="859.2" y="146.5" text-anchor="middle" font-size="18" font-weight="700" fill="#000000">法国</text>
<text transform="translate(957.1,146.1) scale(1.05,1)" text-anchor="middle" font-size="18.81" font-weight="700" fill="#000000">23</text>
<text transform="translate(1043.5,146.1) scale(1.05,1)" text-anchor="middle" font-size="18.81" font-weight="700" fill="#000000">2300%</text>
<text x="859.2" y="171.2" text-anchor="middle" font-size="18" font-weight="700" fill="#000000">韩国</text>
<text transform="translate(957.1,170.8) scale(1.05,1)" text-anchor="middle" font-size="18.81" font-weight="700" fill="#000000">15</text>
<text transform="translate(1043.5,170.8) scale(1.05,1)" text-anchor="middle" font-size="18.81" font-weight="700" fill="#000000">42%</text>
<text x="859.2" y="195.9" text-anchor="middle" font-size="18" font-weight="700" fill="#000000">匈牙利</text>
<text transform="translate(960.1,195.5) scale(1.05,1)" text-anchor="middle" font-size="18.81" font-weight="700" fill="#ff0000">(112)</text>
<text transform="translate(1043.5,195.5) scale(1.05,1)" text-anchor="middle" font-size="18.81" font-weight="700" fill="#6a2bff">-75%</text>
<text x="859.2" y="220.5" text-anchor="middle" font-size="18" font-weight="700" fill="#000000">斯洛伐克</text>
<text transform="translate(960.1,220.1) scale(1.05,1)" text-anchor="middle" font-size="18.81" font-weight="700" fill="#ff0000">(201)</text>
<text transform="translate(1043.5,220.1) scale(1.05,1)" text-anchor="middle" font-size="18.81" font-weight="700" fill="#6a2bff">-9%</text>
<text x="859.2" y="245.2" text-anchor="middle" font-size="18" font-weight="700" fill="#000000">墨西哥</text>
<text transform="translate(960.1,244.8) scale(1.05,1)" text-anchor="middle" font-size="18.81" font-weight="700" fill="#ff0000">(241)</text>
<text transform="translate(1043.5,244.8) scale(1.05,1)" text-anchor="middle" font-size="18.81" font-weight="700" fill="#6a2bff">-53%</text>
<text x="859.2" y="269.9" text-anchor="middle" font-size="18" font-weight="700" fill="#000000">英国</text>
<text transform="translate(960.1,269.5) scale(1.05,1)" text-anchor="middle" font-size="18.81" font-weight="700" fill="#ff0000">(530)</text>
<text transform="translate(1043.5,269.5) scale(1.05,1)" text-anchor="middle" font-size="18.81" font-weight="700" fill="#6a2bff">-19%</text>
<text x="859.2" y="294.5" text-anchor="middle" font-size="18" font-weight="700" fill="#000000">日本</text>
<text transform="translate(960.1,294.1) scale(1.05,1)" text-anchor="middle" font-size="18.81" font-weight="700" fill="#ff0000">(6117)</text>
<text transform="translate(1043.5,294.1) scale(1.05,1)" text-anchor="middle" font-size="18.81" font-weight="700" fill="#6a2bff">-30%</text>
<text transform="translate(50.1,319.3) scale(1.05,1)" text-anchor="middle" font-size="18.81" font-weight="700" fill="#000000">3</text>
<text transform="translate(151.9,319.3) scale(1.05,1)" text-anchor="middle" font-size="18.81" font-weight="700" fill="#000000">99%</text>
<text transform="translate(233.1,320.3) scale(0.98,1)" text-anchor="middle" font-size="18.30" font-weight="400" fill="#222">-12%</text>
<text transform="translate(318.8,319.3) scale(1.05,1)" text-anchor="middle" font-size="18.81" font-weight="700" fill="#000000">4</text>
<text transform="translate(420.6,319.3) scale(1.05,1)" text-anchor="middle" font-size="18.81" font-weight="700" fill="#000000">99%</text>
<text transform="translate(501.9,319.3) scale(1.05,1)" text-anchor="middle" font-size="18.81" font-weight="700" fill="#000000">-17%</text>
<text transform="translate(587.5,319.3) scale(1.05,1)" text-anchor="middle" font-size="18.81" font-weight="700" fill="#000000">4</text>
<text transform="translate(689.3,319.3) scale(1.05,1)" text-anchor="middle" font-size="18.81" font-weight="700" fill="#000000">99%</text>
<text transform="translate(859.2,319.3) scale(1.05,1)" text-anchor="middle" font-size="18.81" font-weight="700" fill="#ff0000">(1)</text>
<text transform="translate(960.1,319.3) scale(1.05,1)" text-anchor="middle" font-size="18.81" font-weight="700" fill="#000000">-11%</text>
<text x="98.8" y="341.4" text-anchor="middle" font-size="16" font-weight="700" fill="#000000">2026年前10</text>
<text x="233.1" y="341.4" text-anchor="middle" font-size="16" font-weight="700" fill="#000000">同比</text>
<text x="367.5" y="341.4" text-anchor="middle" font-size="16" font-weight="700" fill="#000000">25年累计前10</text>
<text x="636.2" y="341.4" text-anchor="middle" font-size="16" font-weight="700" fill="#000000">2026年增减量前五</text>
<text x="770.6" y="341.4" text-anchor="middle" font-size="16" font-weight="700" fill="#000000">年同比</text>
<text x="907.1" y="341.1" text-anchor="middle" font-size="15.2" font-weight="700" fill="#000000">本月同比增减量前五</text>
<text x="1043.5" y="342.1" text-anchor="middle" font-size="18" font-weight="700" fill="#000000">本月同</text>
<text x="53.1" y="367.1" text-anchor="middle" font-size="16" font-weight="700" fill="#000000">日本</text>
<text transform="translate(148.9,366.7) scale(1.01,1)" text-anchor="middle" font-size="16.72" font-weight="700" fill="#000000">34221</text>
<text transform="translate(233.1,366.7) scale(1.01,1)" text-anchor="middle" font-size="16.72" font-weight="700" fill="#ff0000">163%</text>
<text x="53.1" y="391.9" text-anchor="middle" font-size="16" font-weight="700" fill="#000000">德国</text>
<text transform="translate(148.9,391.5) scale(1.01,1)" text-anchor="middle" font-size="16.72" font-weight="700" fill="#000000">14511</text>
<text transform="translate(233.1,391.5) scale(1.01,1)" text-anchor="middle" font-size="16.72" font-weight="700" fill="#ff0000">-14%</text>
<text x="53.1" y="416.6" text-anchor="middle" font-size="16" font-weight="700" fill="#000000">美国</text>
<text transform="translate(148.9,416.2) scale(1.01,1)" text-anchor="middle" font-size="16.72" font-weight="700" fill="#000000">7859</text>
<text transform="translate(233.1,416.2) scale(1.01,1)" text-anchor="middle" font-size="16.72" font-weight="700" fill="#ff0000">21%</text>
<text x="53.1" y="441.4" text-anchor="middle" font-size="16" font-weight="700" fill="#000000">英国</text>
<text transform="translate(148.9,441.0) scale(1.01,1)" text-anchor="middle" font-size="16.72" font-weight="700" fill="#000000">5056</text>
<text transform="translate(233.1,441.0) scale(1.01,1)" text-anchor="middle" font-size="16.72" font-weight="700" fill="#ff0000">14%</text>
<text x="53.1" y="466.1" text-anchor="middle" font-size="16" font-weight="700" fill="#000000">斯洛伐克</text>
<text transform="translate(148.9,465.7) scale(1.01,1)" text-anchor="middle" font-size="16.72" font-weight="700" fill="#000000">4363</text>
<text transform="translate(233.1,465.7) scale(1.01,1)" text-anchor="middle" font-size="16.72" font-weight="700" fill="#ff0000">-61%</text>
<text x="53.1" y="490.8" text-anchor="middle" font-size="16" font-weight="700" fill="#000000">泰国</text>
<text transform="translate(148.9,490.4) scale(1.01,1)" text-anchor="middle" font-size="16.72" font-weight="700" fill="#000000">832</text>
<text transform="translate(233.1,490.4) scale(1.01,1)" text-anchor="middle" font-size="16.72" font-weight="700" fill="#ff0000">576%</text>
<text x="53.1" y="515.6" text-anchor="middle" font-size="16" font-weight="700" fill="#000000">奥地利</text>
<text transform="translate(148.9,515.2) scale(1.01,1)" text-anchor="middle" font-size="16.72" font-weight="700" fill="#000000">737</text>
<text transform="translate(233.1,515.2) scale(1.01,1)" text-anchor="middle" font-size="16.72" font-weight="700" fill="#ff0000">37%</text>
<text x="53.1" y="540.3" text-anchor="middle" font-size="16" font-weight="700" fill="#000000">墨西哥</text>
<text transform="translate(148.9,539.9) scale(1.01,1)" text-anchor="middle" font-size="16.72" font-weight="700" fill="#000000">677</text>
<text transform="translate(233.1,539.9) scale(1.01,1)" text-anchor="middle" font-size="16.72" font-weight="700" fill="#ff0000">-27%</text>
<text x="53.1" y="565.0" text-anchor="middle" font-size="16" font-weight="700" fill="#000000">瑞典</text>
<text transform="translate(148.9,564.6) scale(1.01,1)" text-anchor="middle" font-size="16.72" font-weight="700" fill="#000000">453</text>
<text transform="translate(233.1,564.6) scale(1.01,1)" text-anchor="middle" font-size="16.72" font-weight="700" fill="#ff0000">-55%</text>
<text x="53.1" y="589.8" text-anchor="middle" font-size="16" font-weight="700" fill="#000000">芬兰</text>
<text transform="translate(148.9,589.4) scale(1.01,1)" text-anchor="middle" font-size="16.72" font-weight="700" fill="#000000">285</text>
<text transform="translate(233.1,589.4) scale(1.01,1)" text-anchor="middle" font-size="16.72" font-weight="700" fill="#ff0000">169%</text>
<text x="321.8" y="367.1" text-anchor="middle" font-size="16" font-weight="700" fill="#000000">德国</text>
<text transform="translate(417.6,366.7) scale(1.01,1)" text-anchor="middle" font-size="16.72" font-weight="700" fill="#000000">16846</text>
<text transform="translate(498.9,366.7) scale(1.01,1)" text-anchor="middle" font-size="16.72" font-weight="700" fill="#000000">1</text>
<text x="321.8" y="391.9" text-anchor="middle" font-size="16" font-weight="700" fill="#000000">日本</text>
<text transform="translate(417.6,391.5) scale(1.01,1)" text-anchor="middle" font-size="16.72" font-weight="700" fill="#000000">13013</text>
<text transform="translate(498.9,391.5) scale(1.01,1)" text-anchor="middle" font-size="16.72" font-weight="700" fill="#000000">2</text>
<text x="321.8" y="416.6" text-anchor="middle" font-size="16" font-weight="700" fill="#000000">斯洛伐克</text>
<text transform="translate(417.6,416.2) scale(1.01,1)" text-anchor="middle" font-size="16.72" font-weight="700" fill="#000000">11248</text>
<text transform="translate(498.9,416.2) scale(1.01,1)" text-anchor="middle" font-size="16.72" font-weight="700" fill="#000000">3</text>
<text x="321.8" y="441.4" text-anchor="middle" font-size="16" font-weight="700" fill="#000000">美国</text>
<text transform="translate(417.6,441.0) scale(1.01,1)" text-anchor="middle" font-size="16.72" font-weight="700" fill="#000000">6521</text>
<text transform="translate(498.9,441.0) scale(1.01,1)" text-anchor="middle" font-size="16.72" font-weight="700" fill="#000000">4</text>
<text x="321.8" y="466.1" text-anchor="middle" font-size="16" font-weight="700" fill="#000000">英国</text>
<text transform="translate(417.6,465.7) scale(1.01,1)" text-anchor="middle" font-size="16.72" font-weight="700" fill="#000000">4434</text>
<text transform="translate(498.9,465.7) scale(1.01,1)" text-anchor="middle" font-size="16.72" font-weight="700" fill="#000000">5</text>
<text x="321.8" y="490.8" text-anchor="middle" font-size="16" font-weight="700" fill="#000000">瑞典</text>
<text transform="translate(417.6,490.4) scale(1.01,1)" text-anchor="middle" font-size="16.72" font-weight="700" fill="#000000">1001</text>
<text transform="translate(498.9,490.4) scale(1.01,1)" text-anchor="middle" font-size="16.72" font-weight="700" fill="#000000">6</text>
<text x="321.8" y="515.6" text-anchor="middle" font-size="16" font-weight="700" fill="#000000">墨西哥</text>
<text transform="translate(417.6,515.2) scale(1.01,1)" text-anchor="middle" font-size="16.72" font-weight="700" fill="#000000">925</text>
<text transform="translate(498.9,515.2) scale(1.01,1)" text-anchor="middle" font-size="16.72" font-weight="700" fill="#000000">7</text>
<text x="321.8" y="540.3" text-anchor="middle" font-size="16" font-weight="700" fill="#000000">奥地利</text>
<text transform="translate(417.6,539.9) scale(1.01,1)" text-anchor="middle" font-size="16.72" font-weight="700" fill="#000000">538</text>
<text transform="translate(498.9,539.9) scale(1.01,1)" text-anchor="middle" font-size="16.72" font-weight="700" fill="#000000">8</text>
<text x="321.8" y="565.0" text-anchor="middle" font-size="16" font-weight="700" fill="#000000">韩国</text>
<text transform="translate(417.6,564.6) scale(1.01,1)" text-anchor="middle" font-size="16.72" font-weight="700" fill="#000000">206</text>
<text transform="translate(498.9,564.6) scale(1.01,1)" text-anchor="middle" font-size="16.72" font-weight="700" fill="#000000">9</text>
<text x="321.8" y="589.8" text-anchor="middle" font-size="16" font-weight="700" fill="#000000">匈牙利</text>
<text transform="translate(417.6,589.4) scale(1.01,1)" text-anchor="middle" font-size="16.72" font-weight="700" fill="#000000">202</text>
<text transform="translate(498.9,589.4) scale(1.01,1)" text-anchor="middle" font-size="16.72" font-weight="700" fill="#000000">10</text>
<text x="590.5" y="367.1" text-anchor="middle" font-size="16" font-weight="700" fill="#000000">日本</text>
<text transform="translate(686.3,366.7) scale(1.01,1)" text-anchor="middle" font-size="16.72" font-weight="700" fill="#000000">21208</text>
<text transform="translate(770.6,366.7) scale(1.01,1)" text-anchor="middle" font-size="16.72" font-weight="700" fill="#000000">163%</text>
<text x="590.5" y="391.9" text-anchor="middle" font-size="16" font-weight="700" fill="#000000">美国</text>
<text transform="translate(686.3,391.5) scale(1.01,1)" text-anchor="middle" font-size="16.72" font-weight="700" fill="#000000">1338</text>
<text transform="translate(770.6,391.5) scale(1.01,1)" text-anchor="middle" font-size="16.72" font-weight="700" fill="#000000">21%</text>
<text x="590.5" y="416.6" text-anchor="middle" font-size="16" font-weight="700" fill="#000000">泰国</text>
<text transform="translate(686.3,416.2) scale(1.01,1)" text-anchor="middle" font-size="16.72" font-weight="700" fill="#000000">709</text>
<text transform="translate(770.6,416.2) scale(1.01,1)" text-anchor="middle" font-size="16.72" font-weight="700" fill="#000000">576%</text>
<text x="590.5" y="441.4" text-anchor="middle" font-size="16" font-weight="700" fill="#000000">英国</text>
<text transform="translate(686.3,441.0) scale(1.01,1)" text-anchor="middle" font-size="16.72" font-weight="700" fill="#000000">622</text>
<text transform="translate(770.6,441.0) scale(1.01,1)" text-anchor="middle" font-size="16.72" font-weight="700" fill="#000000">14%</text>
<text x="590.5" y="466.1" text-anchor="middle" font-size="16" font-weight="700" fill="#000000">奥地利</text>
<text transform="translate(686.3,465.7) scale(1.01,1)" text-anchor="middle" font-size="16.72" font-weight="700" fill="#000000">199</text>
<text transform="translate(770.6,465.7) scale(1.01,1)" text-anchor="middle" font-size="16.72" font-weight="700" fill="#000000">37%</text>
<text x="590.5" y="490.8" text-anchor="middle" font-size="16" font-weight="700" fill="#000000">韩国</text>
<text transform="translate(689.3,490.4) scale(1.01,1)" text-anchor="middle" font-size="16.72" font-weight="700" fill="#ff0000">(119)</text>
<text transform="translate(770.6,490.4) scale(1.01,1)" text-anchor="middle" font-size="16.72" font-weight="700" fill="#ff0000">-58%</text>
<text x="590.5" y="515.6" text-anchor="middle" font-size="16" font-weight="700" fill="#000000">墨西哥</text>
<text transform="translate(689.3,515.2) scale(1.01,1)" text-anchor="middle" font-size="16.72" font-weight="700" fill="#ff0000">(248)</text>
<text transform="translate(770.6,515.2) scale(1.01,1)" text-anchor="middle" font-size="16.72" font-weight="700" fill="#ff0000">-27%</text>
<text x="590.5" y="540.3" text-anchor="middle" font-size="16" font-weight="700" fill="#000000">瑞典</text>
<text transform="translate(689.3,539.9) scale(1.01,1)" text-anchor="middle" font-size="16.72" font-weight="700" fill="#ff0000">(548)</text>
<text transform="translate(770.6,539.9) scale(1.01,1)" text-anchor="middle" font-size="16.72" font-weight="700" fill="#ff0000">-55%</text>
<text x="590.5" y="565.0" text-anchor="middle" font-size="16" font-weight="700" fill="#000000">德国</text>
<text transform="translate(689.3,564.6) scale(1.01,1)" text-anchor="middle" font-size="16.72" font-weight="700" fill="#ff0000">(2335)</text>
<text transform="translate(770.6,564.6) scale(1.01,1)" text-anchor="middle" font-size="16.72" font-weight="700" fill="#ff0000">-14%</text>
<text x="590.5" y="589.8" text-anchor="middle" font-size="16" font-weight="700" fill="#000000">斯洛伐克</text>
<text transform="translate(689.3,589.4) scale(1.01,1)" text-anchor="middle" font-size="16.72" font-weight="700" fill="#ff0000">(6885)</text>
<text transform="translate(770.6,589.4) scale(1.01,1)" text-anchor="middle" font-size="16.72" font-weight="700" fill="#ff0000">-61%</text>
<text x="859.2" y="367.9" text-anchor="middle" font-size="18" font-weight="700" fill="#000000">日本</text>
<text transform="translate(957.1,367.5) scale(1.05,1)" text-anchor="middle" font-size="18.81" font-weight="700" fill="#000000">2761</text>
<text transform="translate(1043.5,367.5) scale(1.05,1)" text-anchor="middle" font-size="18.81" font-weight="700" fill="#000000">24%</text>
<text x="859.2" y="392.6" text-anchor="middle" font-size="18" font-weight="700" fill="#000000">泰国</text>
<text transform="translate(957.1,392.2) scale(1.05,1)" text-anchor="middle" font-size="18.81" font-weight="700" fill="#000000">349</text>
<text transform="translate(1043.5,392.2) scale(1.05,1)" text-anchor="middle" font-size="18.81" font-weight="700" fill="#000000">1246%</text>
<text x="859.2" y="417.3" text-anchor="middle" font-size="18" font-weight="700" fill="#000000">墨西哥</text>
<text transform="translate(957.1,416.9) scale(1.05,1)" text-anchor="middle" font-size="18.81" font-weight="700" fill="#000000">184</text>
<text transform="translate(1043.5,416.9) scale(1.05,1)" text-anchor="middle" font-size="18.81" font-weight="700" fill="#000000">541%</text>
<text x="859.2" y="442.1" text-anchor="middle" font-size="18" font-weight="700" fill="#000000">奥地利</text>
<text transform="translate(957.1,441.7) scale(1.05,1)" text-anchor="middle" font-size="18.81" font-weight="700" fill="#000000">118</text>
<text transform="translate(1043.5,441.7) scale(1.05,1)" text-anchor="middle" font-size="18.81" font-weight="700" fill="#000000">48%</text>
<text x="859.2" y="466.8" text-anchor="middle" font-size="18" font-weight="700" fill="#000000">芬兰</text>
<text transform="translate(957.1,466.4) scale(1.05,1)" text-anchor="middle" font-size="18.81" font-weight="700" fill="#000000">35</text>
<text transform="translate(1043.5,466.4) scale(1.05,1)" text-anchor="middle" font-size="18.81" font-weight="700" fill="#000000">33%</text>
<text x="859.2" y="491.6" text-anchor="middle" font-size="18" font-weight="700" fill="#000000">瑞典</text>
<text transform="translate(960.1,491.2) scale(1.05,1)" text-anchor="middle" font-size="18.81" font-weight="700" fill="#ff0000">(116)</text>
<text transform="translate(1043.5,491.2) scale(1.05,1)" text-anchor="middle" font-size="18.81" font-weight="700" fill="#ff0000">-32%</text>
<text x="859.2" y="516.3" text-anchor="middle" font-size="18" font-weight="700" fill="#000000">美国</text>
<text transform="translate(960.1,515.9) scale(1.05,1)" text-anchor="middle" font-size="18.81" font-weight="700" fill="#ff0000">(188)</text>
<text transform="translate(1043.5,515.9) scale(1.05,1)" text-anchor="middle" font-size="18.81" font-weight="700" fill="#ff0000">-4%</text>
<text x="859.2" y="541.0" text-anchor="middle" font-size="18" font-weight="700" fill="#000000">英国</text>
<text transform="translate(960.1,540.6) scale(1.05,1)" text-anchor="middle" font-size="18.81" font-weight="700" fill="#ff0000">(337)</text>
<text transform="translate(1043.5,540.6) scale(1.05,1)" text-anchor="middle" font-size="18.81" font-weight="700" fill="#ff0000">-13%</text>
<text x="859.2" y="565.8" text-anchor="middle" font-size="18" font-weight="700" fill="#000000">德国</text>
<text transform="translate(960.1,565.4) scale(1.05,1)" text-anchor="middle" font-size="18.81" font-weight="700" fill="#ff0000">(2219)</text>
<text transform="translate(1043.5,565.4) scale(1.05,1)" text-anchor="middle" font-size="18.81" font-weight="700" fill="#ff0000">-23%</text>
<text x="859.2" y="590.5" text-anchor="middle" font-size="18" font-weight="700" fill="#000000">斯洛伐克</text>
<text transform="translate(960.1,590.1) scale(1.05,1)" text-anchor="middle" font-size="18.81" font-weight="700" fill="#ff0000">(4356)</text>
<text transform="translate(1043.5,590.1) scale(1.05,1)" text-anchor="middle" font-size="18.81" font-weight="700" fill="#ff0000">-68%</text>
<text transform="translate(50.1,614.8) scale(1.01,1)" text-anchor="middle" font-size="16.72" font-weight="700" fill="#000000">7</text>
<text transform="translate(151.9,614.8) scale(1.01,1)" text-anchor="middle" font-size="16.72" font-weight="700" fill="#000000">99%</text>
<text transform="translate(233.1,615.5) scale(1.05,1)" text-anchor="middle" font-size="18.81" font-weight="700" fill="#000000">25%</text>
<text transform="translate(318.8,614.8) scale(1.01,1)" text-anchor="middle" font-size="16.72" font-weight="700" fill="#000000">6</text>
<text transform="translate(420.6,614.8) scale(1.01,1)" text-anchor="middle" font-size="16.72" font-weight="700" fill="#000000">98%</text>
<text transform="translate(587.5,614.8) scale(1.01,1)" text-anchor="middle" font-size="16.72" font-weight="700" fill="#000000">1</text>
<text transform="translate(689.3,615.5) scale(1.05,1)" text-anchor="middle" font-size="18.81" font-weight="700" fill="#000000">175%</text>
<text transform="translate(859.2,615.5) scale(1.05,1)" text-anchor="middle" font-size="18.81" font-weight="700" fill="#ff0000">(0)</text>
<text transform="translate(960.1,615.5) scale(1.05,1)" text-anchor="middle" font-size="18.81" font-weight="700" fill="#000000">-82%</text>
<g opacity="0.43">
<ellipse cx="797.5" cy="574.5" rx="13" ry="12" fill="#222"/>
<path d="M787,583 L785,590 L793,586 Z" fill="#222"/>
<clipPath id="wmc"><ellipse cx="797.5" cy="574.5" rx="13" ry="12"/></clipPath>
<ellipse cx="811.3" cy="583.4" rx="13.2" ry="11.2" fill="#fff" clip-path="url(#wmc)"/>
<ellipse cx="811.3" cy="583.4" rx="12" ry="10" fill="#222"/>
<path d="M815,591 L820,595 L812,592 Z" fill="#222"/>
</g>
<g fill="#fff" opacity="0.5">
<circle cx="793.4" cy="569.8" r="1.4"/><circle cx="803.2" cy="569.8" r="1.4"/>
<circle cx="807.9" cy="580.3" r="1.3"/><circle cx="815.5" cy="580.3" r="1.3"/>
</g>
<g font-size="30" font-weight="300" fill="#222" opacity="0.45" style="font-family:'Liberation Sans',sans-serif">
<text x="833.5" y="589.5">公众号</text><text x="955.5" y="589.5">崔东树</text></g>
</svg>
</body></html>
